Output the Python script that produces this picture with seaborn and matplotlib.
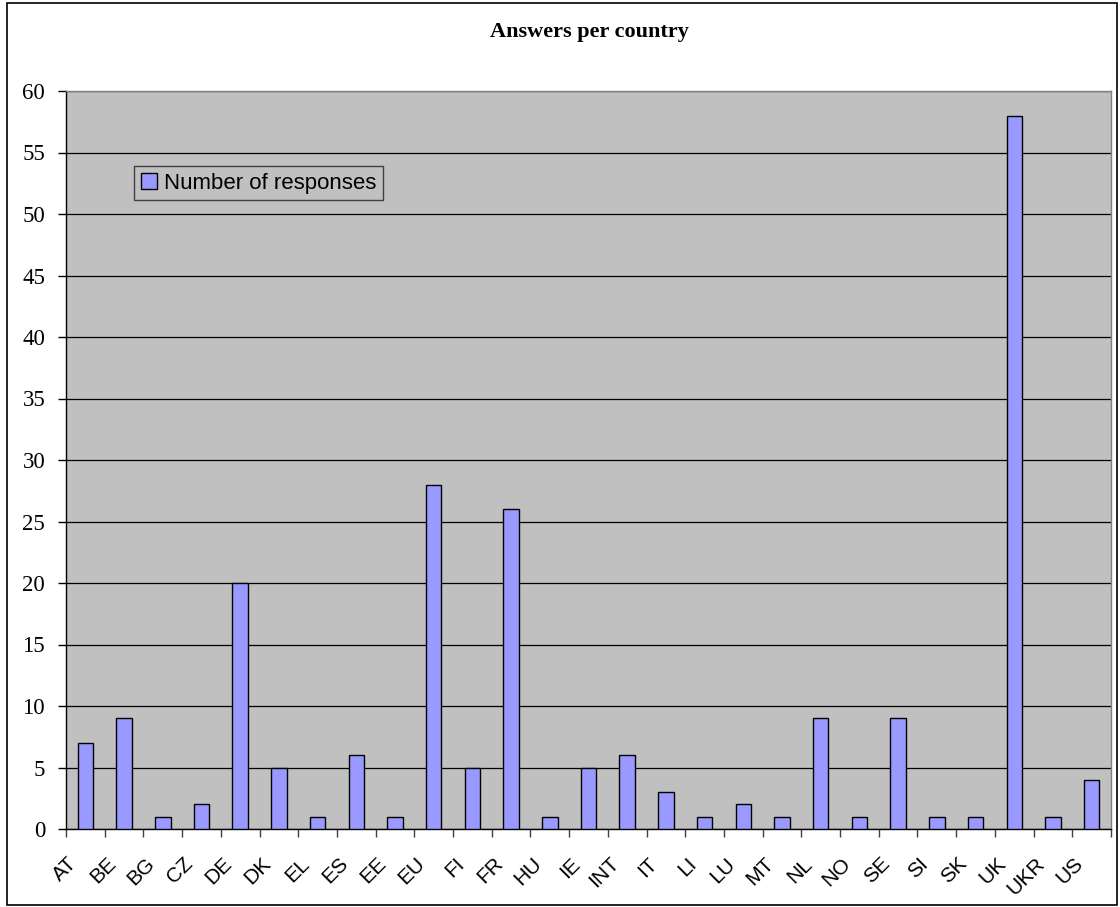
import matplotlib
matplotlib.use("Agg")
import matplotlib.pyplot as plt
import matplotlib.transforms as mtransforms
from matplotlib.patches import Rectangle
import seaborn as sns
import pandas as pd

countries = ["AT", "BE", "BG", "CZ", "DE", "DK", "EL", "ES", "EE", "EU", "FI", "FR", "HU", "IE",
             "INT", "IT", "LI", "LU", "MT", "NL", "NO", "SE", "SI", "SK", "UK", "UKR", "US"]
responses = [7, 9, 1, 2, 20, 5, 1, 6, 1, 28, 5, 26, 1, 5, 6, 3, 1, 2, 1, 9, 1, 9, 1, 1, 58, 1, 4]
yticks = list(range(0, 61, 5))

df = pd.DataFrame({"country": countries, "responses": responses, "series": "Number of responses"})

sns.set_style("white")
plt.rcParams["font.family"] = ["Liberation Serif", "DejaVu Serif"]
plt.rcParams["text.color"] = "black"
plt.rcParams["xtick.color"] = "black"
plt.rcParams["ytick.color"] = "black"

fig = plt.figure(figsize=(11.2, 9.07), dpi=100)
ax = fig.add_axes([66/1120, 1-829/907, (1111-66)/1120, (829-91)/907])
ax.set_facecolor("#C0C0C0")

sns.barplot(data=df, x="country", y="responses", hue="series", palette=["#9999FF"],
            saturation=1, width=0.4, edgecolor="black", linewidth=1.0, ax=ax, zorder=3)

ax.set_xlim(-0.5, len(countries) - 0.5)
ax.set_ylim(0, 60)
ax.set_yticks(yticks)
ax.set_yticklabels([str(v) for v in yticks], fontsize=16.5, family="Liberation Serif",
                   color="black")
ax.yaxis.grid(True, color="black", linewidth=0.9, zorder=1)
ax.set_axisbelow(True)
ax.set_xlabel("")
ax.set_ylabel("")

# ticks at category boundaries
ax.set_xticks([i - 0.5 for i in range(len(countries) + 1)], minor=True)
ax.set_xticks(range(len(countries)))
ax.set_xticklabels(countries, rotation=45, ha="right", rotation_mode="anchor",
                   fontsize=15, family="Liberation Sans", color="black")
ax.tick_params(axis="x", which="both", bottom=True)
ax.tick_params(axis="x", which="major", length=0, pad=18)
ax.tick_params(axis="x", which="minor", length=6, width=1, color="#404040", direction="out")
ax.tick_params(axis="y", length=6, width=1, color="black", direction="out", left=True, pad=9)
offset = mtransforms.ScaledTranslation(-13/72, 0, fig.dpi_scale_trans)
for lbl in ax.get_xticklabels():
    lbl.set_transform(lbl.get_transform() + offset)

for side in ["top", "right"]:
    ax.spines[side].set_color("#808080")
    ax.spines[side].set_linewidth(1.0)
ax.spines["left"].set_color("black")
ax.spines["bottom"].set_color("black")
ax.spines["left"].set_linewidth(1.0)
ax.spines["bottom"].set_linewidth(1.0)

leg = ax.legend(loc="upper left", bbox_to_anchor=((134-66)/1045, (829-166)/738),
                frameon=True, fancybox=False, framealpha=1,
                prop={"family": "Liberation Sans", "size": 16},
                handlelength=0.75, handleheight=0.75, handletextpad=0.3,
                borderpad=0.3, borderaxespad=0)
leg.get_frame().set_facecolor("#C0C0C0")
leg.get_frame().set_edgecolor("#404040")
leg.get_frame().set_linewidth(1.0)
for t in leg.get_texts():
    t.set_color("black")
for h in leg.legend_handles:
    h.set_edgecolor("black")

fig.text(589/1120, 1-32/907, "Answers per country", ha="center", va="center",
         fontsize=16, fontweight="bold", family="Liberation Serif", color="black")

fig.patches.append(Rectangle((7/1120, 2/907), 1110/1120, 902/907, transform=fig.transFigure,
                             fill=False, edgecolor="black", linewidth=1.2))

fig.savefig("out.png", dpi=100)
